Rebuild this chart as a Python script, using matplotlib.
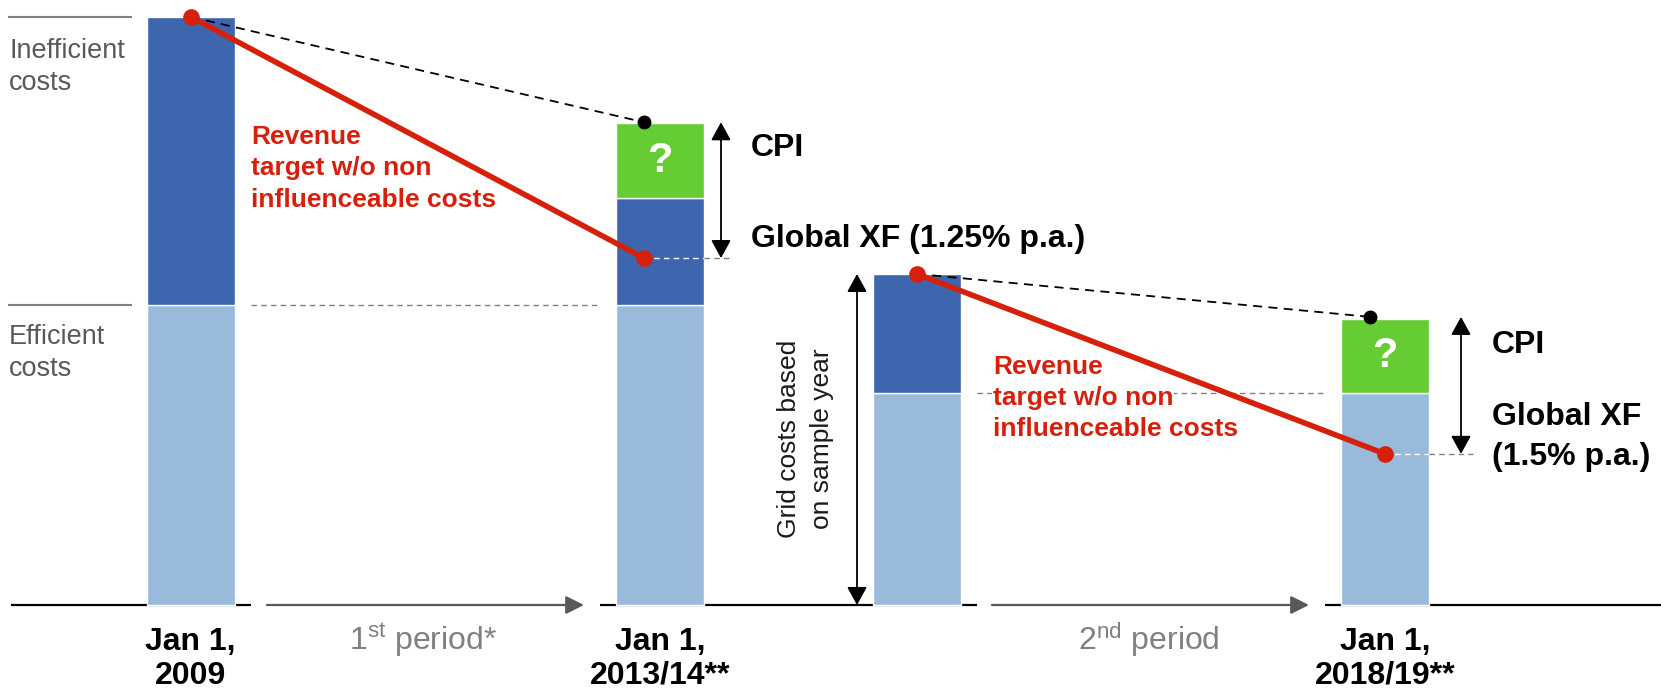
import matplotlib
matplotlib.use('Agg')
import matplotlib.pyplot as plt

plt.rcParams['font.family'] = ['Liberation Sans', 'DejaVu Sans']
plt.rcParams['mathtext.fontset'] = 'custom'
plt.rcParams['mathtext.rm'] = 'Liberation Sans'
plt.rcParams['mathtext.it'] = 'Liberation Sans:italic'
plt.rcParams['mathtext.bf'] = 'Liberation Sans:bold'

# ---------------- data (cost index, 2009 total = 100) ----------------
categories = ['Jan 1,\n2009', 'Jan 1,\n2013/14**', '', 'Jan 1,\n2018/19**']
efficient_costs = [51.0, 51.0, 36.1, 36.1]
inefficient_costs = [49.0, 18.2, 20.2, 0.0]
cpi_increase = [0.0, 12.7, 0.0, 12.5]
revenue_target = [100.0, 59.0, 56.3, 25.7]
cpi_adjusted = [82.1, 49.0]          # end points of the dashed CPI paths (bars 2 and 4)
period_labels = ['1$^{\\mathrm{st}}$ period*', '2$^{\\mathrm{nd}}$ period']
side_labels = [['Inefficient', 'costs'], ['Efficient', 'costs']]
revenue_label = ['Revenue', 'target w/o non', 'influenceable costs']
xf_labels = [['Global XF (1.25% p.a.)'], ['Global XF', '(1.5% p.a.)']]
grid_label = ['Grid costs based', 'on sample year']

# ---------------- layout ----------------
W, H = 1661, 692
BASE_PX = 605
UNIT_PX = 5.88
bar_x = [190.5, 660, 916.5, 1385]
bar_w = 88
dot_x = [191, 644, 917, 1385]
black_dot_x = [644, 1370]


def Y(px):
    return (BASE_PX - px) / UNIT_PX


RED = '#d7200c'
DARK = '#3d66ae'
LIGHT = '#9abadb'
GREEN = '#66cc33'
GRAY = '#595959'
LGRAY = '#808080'

fig = plt.figure(figsize=(W / 100, H / 100), dpi=100)
ax = fig.add_axes([0, 0, 1, 1])
ax.set_xlim(0, W)
ax.set_ylim(Y(H), Y(0))
ax.axis('off')

# bars
for i, x in enumerate(bar_x):
    b = 0.0
    for val, col in ((efficient_costs[i], LIGHT), (inefficient_costs[i], DARK), (cpi_increase[i], GREEN)):
        if val > 0:
            ax.bar(x, val, width=bar_w, bottom=b, color=col, edgecolor='white', linewidth=1.0, zorder=2)
        b += val
    if cpi_increase[i] > 0:
        ax.text(x, b - cpi_increase[i] / 2, '?', color='white', fontsize=30, fontweight='bold',
                ha='center', va='center', zorder=3)

# baseline segments
for x0, x1 in ((10.6, 251), (600, 977), (1325, 1661)):
    ax.plot([x0, x1], [0, 0], color='black', lw=1.6, solid_capstyle='butt', zorder=1)

# period arrows
for (x0, x1), lab in zip(((267, 584), (992, 1309)), period_labels):
    ax.annotate('', xy=(x1, 0), xytext=(x0, 0),
                arrowprops=dict(arrowstyle='-|>,head_length=1.0,head_width=0.5', color=GRAY,
                                lw=1.6, shrinkA=0, shrinkB=0, mutation_scale=11))
    ax.text((x0 + x1) / 2 - 2, Y(650), lab, color=LGRAY, fontsize=23, ha='center', va='baseline')

# left side labels and their rules
ineff_top = efficient_costs[0] + inefficient_costs[0]
for yv in (ineff_top, efficient_costs[0]):
    ax.plot([9, 131], [yv, yv], color=LGRAY, lw=1.5, zorder=1)
for lines, base in zip(side_labels, (57.5, 343.5)):
    for k, t in enumerate(lines):
        ax.text(9, Y(base + 32 * k), t, color=GRAY, fontsize=19.5, ha='left', va='baseline')

# gray dotted reference lines at efficient cost level
ax.plot([251, 600], [efficient_costs[0]] * 2, color=LGRAY, lw=1.0, ls=(0, (4, 3)), zorder=1)
ax.plot([977, 1326], [efficient_costs[2]] * 2, color=LGRAY, lw=1.0, ls=(0, (4, 3)), zorder=1)

# small dashed lines at revenue target level (bars 2 and 4)
for bi, xend in ((1, 733), (3, 1473)):
    right = bar_x[bi] + bar_w / 2
    yv = revenue_target[bi]
    ax.plot([dot_x[bi], right], [yv, yv], color='white', lw=1.0, ls=(0, (4, 3)), zorder=3)
    ax.plot([right, xend], [yv, yv], color=LGRAY, lw=1.0, ls=(0, (4, 3)), zorder=3)

# black dashed CPI paths
for (s, e), bx, cv in zip(((0, 1), (2, 3)), black_dot_x, cpi_adjusted):
    ax.plot([dot_x[s], bx], [revenue_target[s], cv], color='black', lw=1.3, ls=(0, (5, 3.5)), zorder=4)
    ax.plot([bx], [cv], 'o', color='black', ms=9, zorder=6)

# red revenue target lines
for s, e in ((0, 1), (2, 3)):
    ax.plot([dot_x[s], dot_x[e]], [revenue_target[s], revenue_target[e]], color=RED, lw=4,
            marker='o', ms=11, solid_capstyle='round', zorder=5)

# double arrows
arrow_kw = dict(arrowstyle='<|-|>,head_length=1.0,head_width=0.55', color='black', lw=1.3,
                shrinkA=0, shrinkB=0, mutation_scale=11)
ax.annotate('', xy=(721, revenue_target[1]), xytext=(721, cpi_adjusted[0]), arrowprops=arrow_kw)
ax.annotate('', xy=(1461, revenue_target[3]), xytext=(1461, cpi_adjusted[1]), arrowprops=arrow_kw)
ax.annotate('', xy=(857, 0), xytext=(857, revenue_target[2]), arrowprops=arrow_kw)

# CPI / XF labels
ax.text(751, Y(156.5), 'CPI', fontsize=23, fontweight='bold', ha='left', va='baseline')
ax.text(751, Y(246.5), xf_labels[0][0], fontsize=23, fontweight='bold', ha='left', va='baseline')
ax.text(1492, Y(353), 'CPI', fontsize=23, fontweight='bold', ha='left', va='baseline')
for k, t in enumerate(xf_labels[1]):
    ax.text(1492, Y(425 + 40 * k), t, fontsize=23, fontweight='bold', ha='left', va='baseline')

# red revenue text blocks
for x0, base in ((251, 144), (993, 373.5)):
    for k, t in enumerate(revenue_label):
        ax.text(x0, Y(base + 31.5 * k), t, color=RED, fontsize=19, fontweight='bold',
                ha='left', va='baseline', zorder=3,
                bbox=dict(facecolor='white', edgecolor='none', pad=0.5))

# rotated grid-cost label
for xc, t in zip((789, 822), grid_label):
    ax.text(xc, Y(439), t, fontsize=19, rotation=90, ha='center', va='center', color='#1a1a1a')

# category labels
for x, lab in zip(bar_x, categories):
    if not lab:
        continue
    l1, l2 = lab.split('\n')
    ax.text(x, Y(650), l1, fontsize=23, fontweight='bold', ha='center', va='baseline')
    ax.text(x, Y(684), l2, fontsize=23, fontweight='bold', ha='center', va='baseline')

fig.savefig('out.png', dpi=100, facecolor='white')
